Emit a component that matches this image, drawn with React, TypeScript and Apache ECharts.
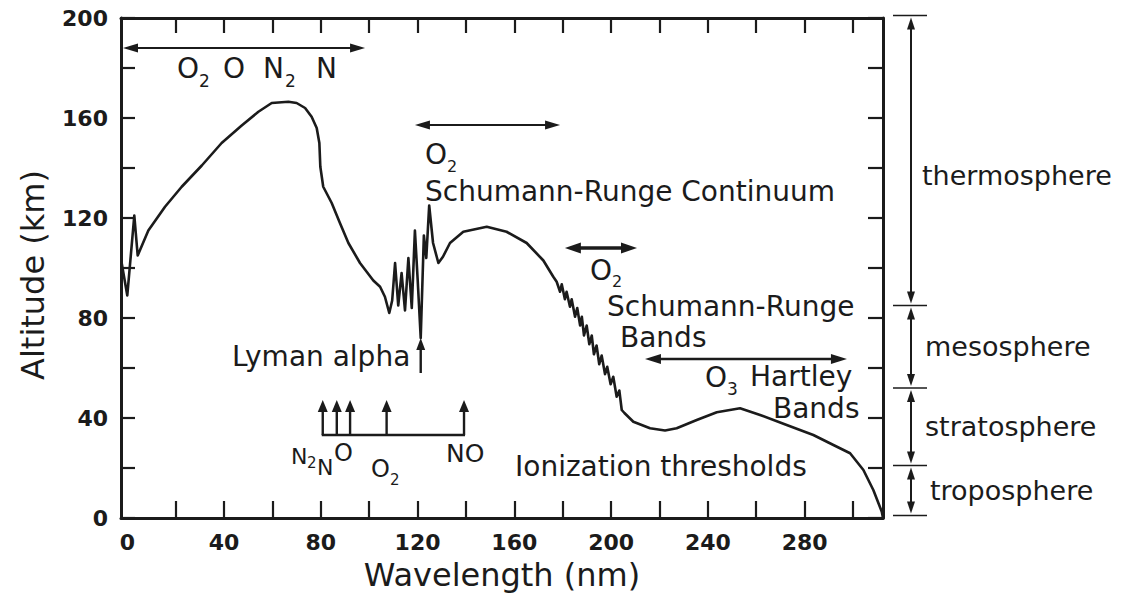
import React, { useEffect, useRef } from "react";
import * as echarts from "echarts";

const INK = "#1b1b1b";
const FONT = '"DejaVu Sans", Verdana, sans-serif';

// ---- altitude of unit optical depth vs wavelength ----
const euvWavelength = [-2.5, 0, 2.9, 4.3, 8.7, 15.6, 22.5, 30.8, 39.0, 47.3, 54.2, 59.7, 66.6, 70.0, 73.5, 76.2, 78.3, 79.4, 79.8, 81.0, 84.5, 87.9, 91.4, 96.2, 101.7, 104.5];
const euvAltitude = [103, 89, 121, 105, 115, 124.5, 132.5, 141, 150, 157, 162.5, 166, 166.5, 166, 164, 160.5, 156, 150, 140.5, 132.5, 126, 118, 110, 102, 95, 92.5];

const lymanWavelength = [106.5, 108.3, 109.5, 110.7, 112.0, 113.4, 114.8, 116.2, 117.6, 118.9, 120.0, 121.3, 122.6, 123.6, 124.8, 126.4, 128.6, 130.5];
const lymanAltitude = [88.5, 82, 87, 102, 85, 98, 83, 104, 84, 115, 96, 72, 113, 104, 125, 110, 102, 104.5];

const continuumWavelength = [133.4, 138.9, 148.6, 156.8, 165.1, 172.0, 176.1];
const continuumAltitude = [110, 114.5, 116.5, 114.5, 110, 103, 96.5];

const srBandsWavelength = [177.5, 178.9, 179.6, 180.9, 181.6, 183.0, 183.7, 185.1, 186.0, 187.2, 187.9, 188.8, 189.9, 191.0, 192.0, 192.9, 194.0, 195.1, 196.1, 197.5, 198.4, 199.8, 200.9, 202.3, 203.4, 204.4];
const srBandsAltitude = [94.5, 90.5, 93.5, 87.5, 90.5, 84.5, 87.5, 80.5, 84, 77, 80.5, 73, 77, 69.5, 73, 65.5, 69, 61.5, 65, 57.5, 60.5, 53.5, 56.5, 48.5, 51, 43.2];

const hartleyWavelength = [205.5, 209.2, 216.1, 222.3, 227.1, 235.4, 243.7, 253.3, 261.6, 272.6, 283.6, 291.9, 298.8, 304.3, 308.4, 311.9, 312.4];
const hartleyAltitude = [42, 38.5, 35.9, 35, 35.9, 39.2, 42.3, 43.9, 41.2, 37.2, 33.2, 29.2, 25.9, 19.2, 11.2, 2.5, 0];

// ---- axes ----
const X_MIN = -2.6;
const X_MAX = 312.4;
const xTickValues = [20, 40, 60, 80, 100, 120, 140, 160, 180, 200, 220, 240, 260, 280, 300];
const xLabelValues = [0, 40, 80, 120, 160, 200, 240, 280];
const Y_MIN = 0;
const Y_MAX = 200;
const Y_STEP = 20;
const Y_LABEL_STEP = 40;

// ---- annotation values (nm / km) ----
const speciesArrowNm = [-2.6, 98.3];
const speciesArrowKm = 188;
const continuumArrowNm = [118.9, 178.9];
const continuumArrowKm = 157.2;
const srBandsArrowNm = [180.9, 210.7];
const srBandsArrowKm = 108;
const hartleyArrowNm = [214.0, 297.5];
const hartleyArrowKm = 63.6;
const lymanAlphaNm = 121.3;
const lymanArrowKm = [58, 72];
const thresholdNm = [80.8, 86.6, 92.1, 107.2, 139.2];
const thresholdBaseKm = 33.2;
const thresholdTipKm = 47.2;
const layerBoundaryKm = [201, 85, 52, 21, 1];
const layerNames = ["thermosphere", "mesosphere", "stratosphere", "troposphere"];

function zip(a: number[], b: number[]) {
  return a.map((v, i) => [v, b[i]]);
}

const curve = [
  ...zip(euvWavelength, euvAltitude),
  ...zip(lymanWavelength, lymanAltitude),
  ...zip(continuumWavelength, continuumAltitude),
  ...zip(srBandsWavelength, srBandsAltitude),
  ...zip(hartleyWavelength, hartleyAltitude),
];

function head(tx: number, ty: number, dx: number, dy: number, len: number, half: number) {
  const n = Math.hypot(dx, dy);
  const ux = dx / n;
  const uy = dy / n;
  const bx = tx - ux * len;
  const by = ty - uy * len;
  return {
    type: "polygon",
    silent: true,
    shape: {
      points: [
        [tx, ty],
        [bx - uy * half, by + ux * half],
        [bx + uy * half, by - ux * half],
      ],
    },
    style: { fill: INK },
  };
}

function arrow(
  x1: number, y1: number, x2: number, y2: number,
  width: number, len: number, half: number, startHead: boolean, endHead: boolean
) {
  const dx = x2 - x1;
  const dy = y2 - y1;
  const n = Math.hypot(dx, dy);
  const ux = dx / n;
  const uy = dy / n;
  const sx = startHead ? x1 + ux * len * 0.6 : x1;
  const sy = startHead ? y1 + uy * len * 0.6 : y1;
  const ex = endHead ? x2 - ux * len * 0.6 : x2;
  const ey = endHead ? y2 - uy * len * 0.6 : y2;
  const els: any[] = [
    {
      type: "line",
      silent: true,
      shape: { x1: sx, y1: sy, x2: ex, y2: ey },
      style: { stroke: INK, lineWidth: width },
    },
  ];
  if (startHead) els.push(head(x1, y1, -dx, -dy, len, half));
  if (endHead) els.push(head(x2, y2, dx, dy, len, half));
  return els;
}

function txt(text: string, x: number, y: number, size: number, align = "left") {
  return {
    type: "text",
    silent: true,
    x,
    y,
    style: {
      text,
      fontSize: size,
      fontFamily: FONT,
      fill: INK,
      align,
      verticalAlign: "middle",
      textAlign: align,
      textVerticalAlign: "middle",
    },
  };
}

export default function App() {
  const ref = useRef<HTMLDivElement>(null);

  useEffect(() => {
    if (!ref.current) return;
    const chart = echarts.init(ref.current, undefined, { renderer: "svg" });

    const axisLine = { show: true, onZero: false, lineStyle: { color: INK, width: 3 } };
    const tickStyle = { color: INK, width: 2.2 };
    const labelStyle = { fontSize: 22, fontWeight: "bold", fontFamily: FONT, color: INK };

    chart.setOption({
      animation: false,
      backgroundColor: "#ffffff",
      grid: { left: 121, right: 242, top: 18, bottom: 75, containLabel: false, outerBoundsMode: "none" },
      xAxis: [
        {
          type: "value",
          position: "bottom",
          min: X_MIN,
          max: X_MAX,
          axisLine,
          axisTick: { show: true, inside: true, length: 17, customValues: xTickValues, lineStyle: tickStyle },
          axisLabel: { ...labelStyle, customValues: xLabelValues, margin: 13 },
          splitLine: { show: false },
          name: "Wavelength (nm)",
          nameLocation: "middle",
          nameGap: 24,
          nameTextStyle: { fontSize: 32, fontFamily: FONT, color: INK, lineHeight: 34 },
        },
        {
          type: "value",
          position: "top",
          min: X_MIN,
          max: X_MAX,
          axisLine,
          axisTick: { show: true, inside: true, length: 15, customValues: xTickValues, lineStyle: tickStyle },
          axisLabel: { show: false },
          splitLine: { show: false },
        },
      ],
      yAxis: [
        {
          type: "value",
          position: "left",
          min: Y_MIN,
          max: Y_MAX,
          interval: Y_STEP,
          axisLine,
          axisTick: { show: true, inside: true, length: 14, lineStyle: tickStyle },
          axisLabel: {
            ...labelStyle,
            margin: 13,
            formatter: (v: number) => (v % Y_LABEL_STEP === 0 ? String(v) : ""),
          },
          splitLine: { show: false },
          name: "Altitude (km)",
          nameLocation: "middle",
          nameRotate: 90,
          nameGap: 72,
          nameTextStyle: { fontSize: 32, fontFamily: FONT, color: INK, padding: [0, 14, 0, 0] },
        },
        {
          type: "value",
          position: "right",
          min: Y_MIN,
          max: Y_MAX,
          interval: Y_STEP,
          axisLine,
          axisTick: { show: true, inside: true, length: 15, lineStyle: tickStyle },
          axisLabel: { show: false },
          splitLine: { show: false },
        },
      ],
      series: [
        {
          type: "line",
          xAxisIndex: 0,
          yAxisIndex: 0,
          data: curve,
          showSymbol: false,
          symbol: "none",
          clip: false,
          silent: true,
          lineStyle: { color: INK, width: 2.6, join: "round", cap: "round" },
        },
      ],
    });

    const P = (x: number, y: number) =>
      chart.convertToPixel({ seriesIndex: 0 }, [x, y]) as unknown as number[];

    const els: any[] = [];

    // O2 O N2 N ionization continuum
    {
      const a = P(speciesArrowNm[0], speciesArrowKm);
      const b = P(speciesArrowNm[1], speciesArrowKm);
      els.push(...arrow(a[0] + 2, a[1], b[0], b[1], 2, 15, 4.5, true, true));
      els.push(txt("O", 177, 68, 28), txt("2", 199, 81, 17));
      els.push(txt("O", 223, 68, 28));
      els.push(txt("N", 263, 68, 28), txt("2", 285, 81, 17));
      els.push(txt("N", 316, 68, 28));
    }
    // Schumann-Runge continuum
    {
      const a = P(continuumArrowNm[0], continuumArrowKm);
      const b = P(continuumArrowNm[1], continuumArrowKm);
      els.push(...arrow(a[0], a[1], b[0], b[1], 2, 15, 4.5, true, true));
      els.push(txt("O", 425, 154, 28), txt("2", 447, 166, 16));
      els.push(txt("Schumann-Runge Continuum", 425, 191, 28));
    }
    // Schumann-Runge bands
    {
      const a = P(srBandsArrowNm[0], srBandsArrowKm);
      const b = P(srBandsArrowNm[1], srBandsArrowKm);
      els.push(...arrow(a[0], a[1], b[0], b[1], 3.5, 16, 5.5, true, true));
      els.push(txt("O", 590, 270, 28), txt("2", 612, 281, 16));
      els.push(txt("Schumann-Runge", 607, 306, 28));
      els.push(txt("Bands", 620, 337, 28));
    }
    // O3 Hartley bands
    {
      const a = P(hartleyArrowNm[0], hartleyArrowKm);
      const b = P(hartleyArrowNm[1], hartleyArrowKm);
      els.push(...arrow(a[0], a[1], b[0], b[1], 2.6, 16, 5, true, true));
      els.push(txt("O", 705, 377, 28), txt("3", 727, 389, 17));
      els.push(txt("Hartley", 750, 376, 28));
      els.push(txt("Bands", 773, 408, 28));
    }
    // Lyman alpha
    {
      const a = P(lymanAlphaNm, lymanArrowKm[0]);
      const b = P(lymanAlphaNm, lymanArrowKm[1]);
      els.push(...arrow(a[0], a[1], b[0], b[1], 2.4, 12, 4.5, false, true));
      els.push(txt("Lyman alpha", 232, 356, 28));
    }
    // Ionization thresholds
    {
      const first = P(thresholdNm[0], thresholdBaseKm);
      const last = P(thresholdNm[thresholdNm.length - 1], thresholdBaseKm);
      els.push({
        type: "line",
        silent: true,
        shape: { x1: first[0] - 1, y1: first[1], x2: last[0] + 1, y2: last[1] },
        style: { stroke: INK, lineWidth: 2.6 },
      });
      thresholdNm.forEach((nm) => {
        const a = P(nm, thresholdBaseKm);
        const b = P(nm, thresholdTipKm);
        els.push(...arrow(a[0], a[1], b[0], b[1], 2.4, 12, 5, false, true));
      });
      els.push(txt("N", 291, 456, 22), txt("2", 307, 463, 15));
      els.push(txt("N", 317, 467, 22));
      els.push(txt("O", 334, 453, 24));
      els.push(txt("O", 371, 469, 24), txt("2", 390, 480, 15));
      els.push(txt("NO", 446, 453, 25));
      els.push(txt("Ionization thresholds", 515, 466, 28));
    }
    // atmospheric layers bracket
    {
      const lineX = 911;
      const ys = layerBoundaryKm.map((km) => P(0, km)[1]);
      ys.forEach((y) => {
        els.push({
          type: "line",
          silent: true,
          shape: { x1: 893, y1: y, x2: 927, y2: y },
          style: { stroke: INK, lineWidth: 1.6 },
        });
      });
      const textX = [922, 925, 925, 930];
      for (let i = 0; i < layerNames.length; i++) {
        const y1 = ys[i] + 2;
        const y2 = ys[i + 1] - 2;
        els.push(...arrow(lineX, y1, lineX, y2, 2, 12, 4, true, true));
        els.push(txt(layerNames[i], textX[i], (ys[i] + ys[i + 1]) / 2 + (i === 0 ? 15 : 0), 27));
      }
    }

    chart.setOption({ graphic: { elements: els } });

    return () => chart.dispose();
  }, []);

  return (
    <div
      ref={ref}
      style={{ position: "absolute", left: 0, top: 0, width: 1125, height: 593, background: "#fff" }}
    />
  );
}
